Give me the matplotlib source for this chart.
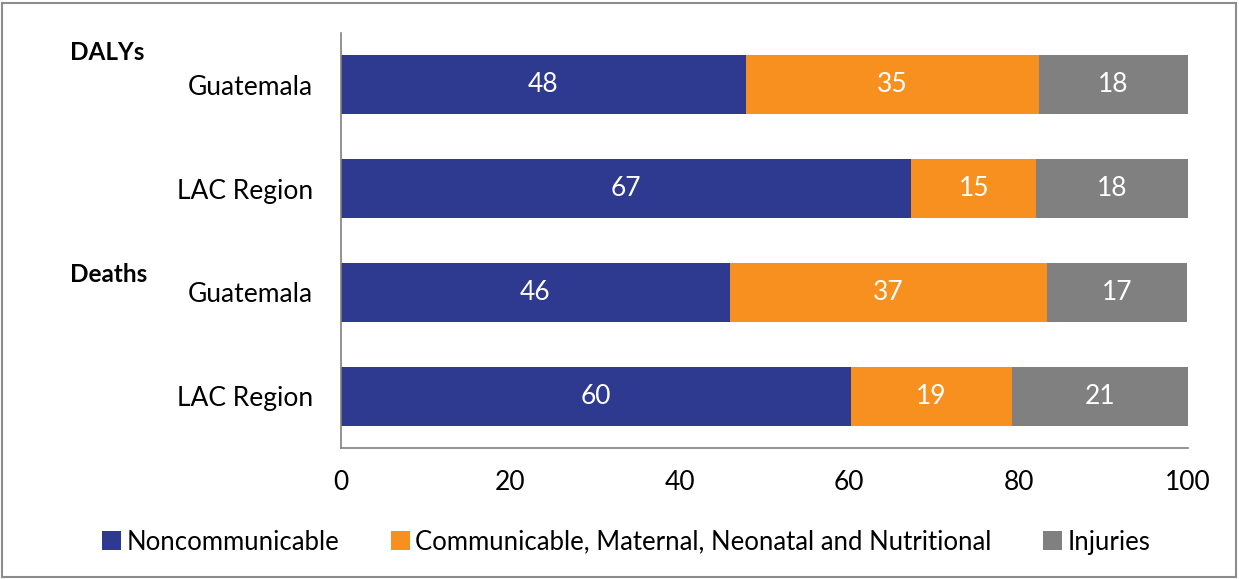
import matplotlib
matplotlib.use('Agg')
import matplotlib.pyplot as plt
from matplotlib.patches import Rectangle

plt.rcParams['font.family'] = ['Lato', 'DejaVu Sans']

rows = ['Guatemala', 'LAC Region', 'Guatemala', 'LAC Region']
groups = ['DALYs', 'Deaths']
series = ['Noncommunicable', 'Communicable, Maternal, Neonatal and Nutritional', 'Injuries']
noncomm = [47.8, 67.3, 45.9, 60.2]
comm = [34.6, 14.8, 37.4, 19.0]
injuries = [17.6, 17.9, 16.6, 20.8]
colors = ['#2E3A8F', '#F7901E', '#808080']
xticks = [0, 20, 40, 60, 80, 100]

fig = plt.figure(figsize=(12.39, 5.79), dpi=100)
ax = fig.add_axes([341 / 1239, 1 - 448 / 579, (1188 - 341) / 1239, (448 - 33) / 579])

ypos = list(range(len(rows)))
left = [0.0] * len(rows)
for vals, col, name in zip([noncomm, comm, injuries], colors, series):
    bars = ax.barh(ypos, vals, left=left, height=0.567, color=col, label=name)
    for b, v in zip(bars, vals):
        ax.text(b.get_x() + b.get_width() / 2, b.get_y() + b.get_height() / 2,
                f'{round(v)}', ha='center', va='center', color='white', fontsize=19)
    left = [l + v for l, v in zip(left, vals)]

ax.set_xlim(0, 100)
ax.set_ylim(3.5, -0.5)
ax.set_yticks(ypos)
ax.set_yticklabels(rows, fontsize=19)
ax.set_xticks(xticks)
ax.set_xticklabels([str(t) for t in xticks], fontsize=19)
ax.tick_params(length=0)
ax.tick_params(axis='y', pad=20)
ax.tick_params(axis='x', pad=16)
for s in ['top', 'right']:
    ax.spines[s].set_visible(False)
for s in ['left', 'bottom']:
    ax.spines[s].set_color('#808080')
    ax.spines[s].set_linewidth(1.2)

fig.text(70 / 1239, 1 - 53 / 579, groups[0], fontsize=17.5, fontweight='bold', va='center', ha='left')
fig.text(70 / 1239, 1 - 274 / 579, groups[1], fontsize=17.5, fontweight='bold', va='center', ha='left')

ax.legend(loc='center', bbox_to_anchor=(0.3365, -0.227),
          ncol=3, frameon=False, fontsize=18.5, handlelength=0.75, handleheight=0.75,
          handletextpad=0.2, columnspacing=2.0)

fig.add_artist(Rectangle((2 / 1239, 2 / 579), 1234 / 1239, 574 / 579, transform=fig.transFigure,
                         fill=False, edgecolor='#8c8c8c', linewidth=1.5))

fig.savefig('out.png', dpi=100)
